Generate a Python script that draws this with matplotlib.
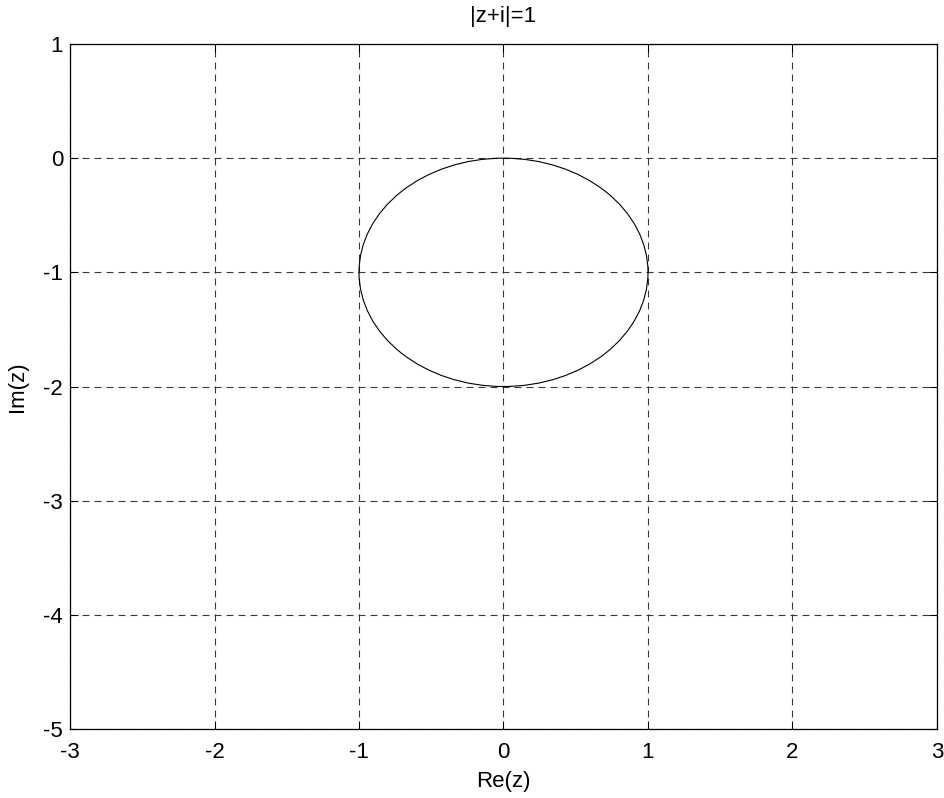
import matplotlib
matplotlib.use('Agg')
import matplotlib.pyplot as plt
from matplotlib.patches import Circle

# |z + i| = 1  ->  circle centred at -i with radius 1
center_re = 0.0
center_im = -1.0
radius = 1.0

x_ticks = [-3, -2, -1, 0, 1, 2, 3]
y_ticks = [-5, -4, -3, -2, -1, 0, 1]

plt.rcParams['font.family'] = ['Liberation Sans', 'DejaVu Sans']

fig = plt.figure(figsize=(9.45, 7.98), dpi=100)
ax = fig.add_axes([70 / 945, 1 - 729 / 798, 867 / 945, 685 / 798])

circ = Circle((center_re, center_im), radius, fill=False,
              edgecolor='black', linewidth=0.8)
ax.add_patch(circ)

ax.set_xlim(x_ticks[0], x_ticks[-1])
ax.set_ylim(y_ticks[0], y_ticks[-1])
ax.set_xticks(x_ticks)
ax.set_yticks(y_ticks)
ax.set_xticklabels([str(t) for t in x_ticks])
ax.set_yticklabels([str(t) for t in y_ticks])

ax.grid(True, color='#383838', linewidth=0.8, linestyle=(0, (6.3, 4.5)))
ax.set_axisbelow(True)

ax.tick_params(direction='in', length=6, width=0.75, top=True, right=True,
               labelsize=16, colors='black')
ax.tick_params(axis='x', pad=9)
ax.tick_params(axis='y', pad=5)
for s in ax.spines.values():
    s.set_linewidth(0.9)

ax.set_title('|z+i|=1', fontsize=16, pad=16)
ax.set_xlabel('Re(z)', fontsize=16, labelpad=6)
ax.set_ylabel('Im(z)', fontsize=16, labelpad=11)

fig.savefig('out.png', dpi=100)
